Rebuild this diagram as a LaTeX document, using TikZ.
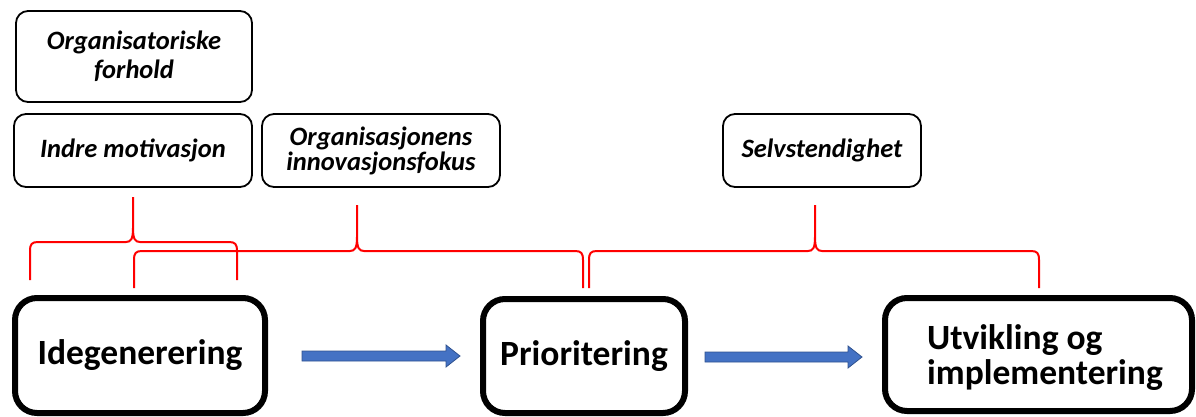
\documentclass[tikz,border=0pt]{standalone}
\usepackage{fontspec}
\setmainfont{Carlito}
\usetikzlibrary{calc}
\definecolor{arrowblue}{HTML}{4472C4}
\definecolor{arrowedge}{HTML}{2F528F}
% curly bracket: left x, tip x, right x, bar y, foot y, tip top y
\newcommand\factorbrace[6]{%
  \draw[brace] (#1,#5) -- (#1,#4+9) .. controls (#1,#4+2) and (#1+2,#4) .. (#1+8,#4)
    -- (#2-7,#4) .. controls (#2-2,#4) and (#2,#4-3) .. (#2,#4-14) -- (#2,#6)
    (#2,#4-14) .. controls (#2,#4-3) and (#2+2,#4) .. (#2+7,#4)
    -- (#3-8,#4) .. controls (#3-2,#4) and (#3,#4+2) .. (#3,#4+9) -- (#3,#5);}
% block arrow: from coordinate #1 to coordinate #2 (same height)
\newcommand\flowarrow[2]{%
  \draw[flow] ($(#1)+(0,-5)$) -- ($(#2)+(-14,-5)$) -- ($(#2)+(-14,-11)$) -- (#2)
    -- ($(#2)+(-14,11)$) -- ($(#2)+(-14,5)$) -- ($(#1)+(0,5)$) -- cycle;}
\begin{document}
\begin{tikzpicture}[x=1pt,y=-1pt,
  stage/.style={draw=black, line width=6pt, rounded corners=22pt, inner sep=0pt,
    align=left, font=\fontsize{35.5}{34}\selectfont\bfseries},
  factor/.style={draw=black, line width=1.8pt, rounded corners=12pt, inner sep=0pt,
    align=center, minimum height=73pt, font=\fontsize{26.5}{25}\selectfont\bfseries\itshape},
  brace/.style={red, line width=2pt},
  flow/.style={fill=arrowblue, draw=arrowedge, line width=0.8pt}]
\useasboundingbox (0,0) rectangle (1196,416);

% process stages
\node[stage, minimum width=250pt, minimum height=115pt] (ide) at (140,355.5) {Idegenerering};
\node[stage, minimum width=202pt, minimum height=114pt] (pri) at (584,356) {Prioritering};
\node[stage, minimum width=307pt, minimum height=113pt] (utv) at (1038.5,354.5)
  {\raisebox{-5pt}[\height][\depth]{\begin{tabular}{@{\hspace*{13pt}}l@{}}Utvikling og\\implementering\end{tabular}}};

% influencing factors
\node[factor, minimum width=236pt, minimum height=91pt,
  font=\fontsize{26.5}{29}\selectfont\bfseries\itshape] (org) at (134,56.5)
  {Organisatoriske\\forhold};
\node[factor, minimum width=238pt] (ind) at (133,150.5) {Indre motivasjon};
\node[factor, minimum width=238pt] (inn) at (381,150.5) {Organisasjonens\\innovasjonsfokus};
\node[factor, minimum width=198pt] (sel) at (822,150.5) {Selvstendighet};

% brackets linking factors to stages
\factorbrace{30}{133}{237}{242}{280}{197}
\factorbrace{134}{357}{583}{251}{288}{205}
\factorbrace{589}{815}{1039}{251}{288}{205}

% flow between stages
\coordinate (a1s) at (302,356);
\coordinate (a1e) at (460,356);
\coordinate (a2s) at (705,357);
\coordinate (a2e) at (862,357);
\flowarrow{a1s}{a1e}
\flowarrow{a2s}{a2e}
\end{tikzpicture}
\end{document}
